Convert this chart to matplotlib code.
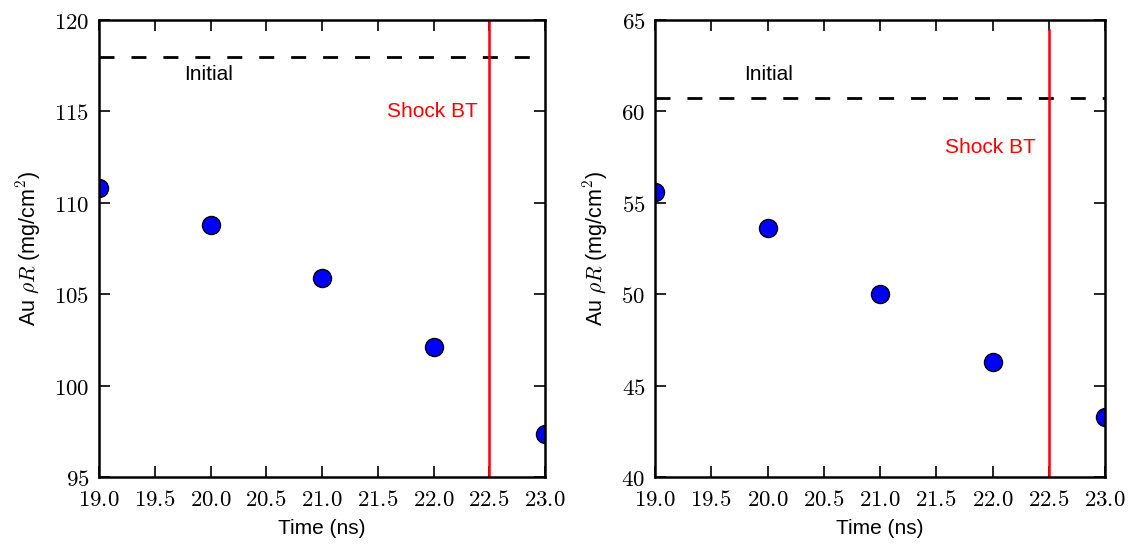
import numpy as np
import matplotlib
matplotlib.use("Agg")
import matplotlib.pyplot as plt
from matplotlib.ticker import FuncFormatter

plt.rcParams.update({
    "font.family": "sans-serif",
    "font.sans-serif": ["Liberation Sans", "DejaVu Sans"],
    "mathtext.fontset": "cm",
    "font.size": 15,
})

time_ns = [19.0, 20.0, 21.0, 22.0, 23.0]
rhoR_left = [110.8, 108.8, 105.9, 102.1, 97.35]
rhoR_right = [55.6, 53.6, 50.0, 46.3, 43.3]
initial_left = 118.0
initial_right = 60.75
shock_t = 22.5
shock_top_right = 64.45
xticks = [19.0, 19.5, 20.0, 20.5, 21.0, 21.5, 22.0, 22.5, 23.0]

fig = plt.figure(figsize=(11.3, 5.44), dpi=100)
ax1 = fig.add_axes([99 / 1130, 1 - 477 / 544, 446 / 1130, 457 / 544])
ax2 = fig.add_axes([655 / 1130, 1 - 477 / 544, 450 / 1130, 457 / 544])

DASH = (0, (5.4, 6.1))


def style(ax, ylim, fmt):
    ax.set_xlim(19, 23)
    ax.set_ylim(*ylim)
    ax.set_xticks(xticks)
    ax.xaxis.set_major_formatter(FuncFormatter(lambda v, p: "$%.1f$" % v))
    ax.yaxis.set_major_formatter(FuncFormatter(lambda v, p: fmt % v))
    ax.tick_params(direction="in", top=True, right=True, length=8, width=1.2,
                   labelsize=16.5)
    ax.tick_params(axis="x", pad=8)
    ax.tick_params(axis="y", pad=7)
    for s in ax.spines.values():
        s.set_linewidth(1.8)
    ax.set_xlabel("Time (ns)", labelpad=6)
    ax.set_ylabel(r"Au $\rho R$ (mg/cm$^2$)", labelpad=8, fontsize=15.5)


# left panel
ax1.axhline(initial_left, color="black", ls=DASH, lw=2)
ax1.axvline(shock_t, color="red", lw=1.8)
ax1.plot(time_ns, rhoR_left, "o", color="blue", mec="black", mew=1, ms=13)
ax1.text(19.76, 117.0, "Initial", va="center")
ax1.text(21.58, 115.0, "Shock BT", va="center", color="red")
style(ax1, (95, 120), "$%d$")

# right panel
ax2.axhline(initial_right, color="black", ls=DASH, lw=2)
ax2.plot([shock_t, shock_t], [40, shock_top_right], color="red", lw=1.8)
ax2.plot(time_ns, rhoR_right, "o", color="blue", mec="black", mew=1, ms=13)
ax2.text(19.79, 62.0, "Initial", va="center")
ax2.text(21.58, 58.0, "Shock BT", va="center", color="red")
style(ax2, (40, 65), "$%d$")

fig.savefig("out.png", dpi=100, facecolor="white")
